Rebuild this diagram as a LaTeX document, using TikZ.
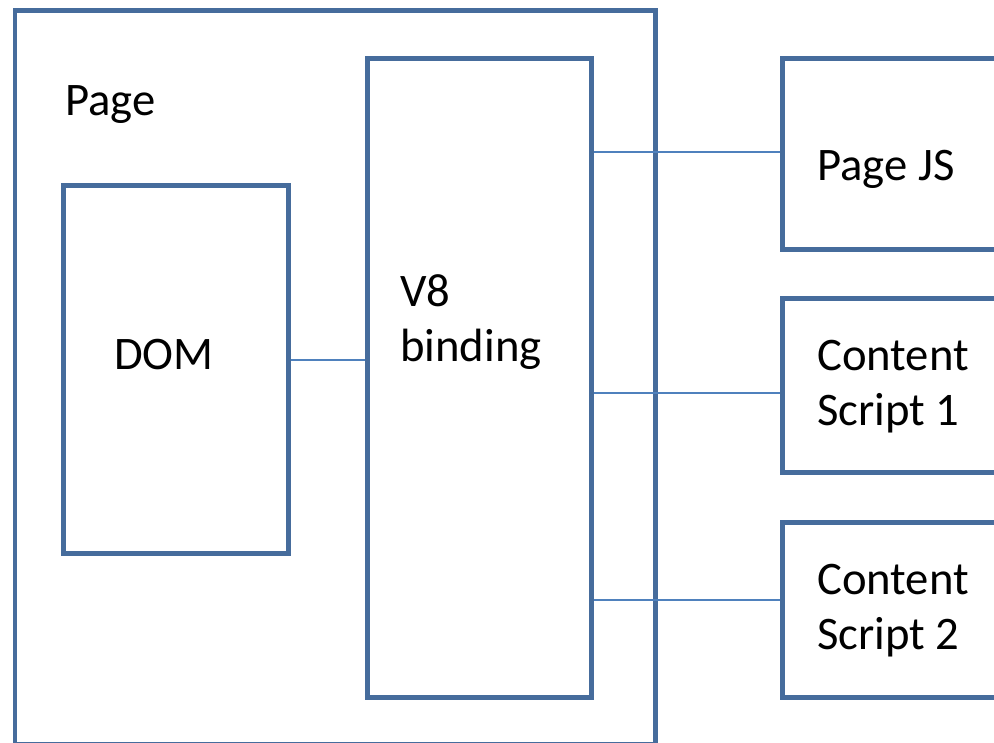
\documentclass[tikz,border=0pt]{standalone}
\usepackage{fontspec}
\setmainfont{Carlito}
\definecolor{boxc}{RGB}{70,108,156}
\definecolor{linkc}{RGB}{79,129,189}
\begin{document}
\begin{tikzpicture}[x=0.75pt,y=-0.75pt,
  blk/.style={draw=boxc,line width=3.6pt,rectangle,inner sep=0pt,anchor=north west},
  lbl/.style={anchor=base west,inner sep=0pt,font=\fontsize{35pt}{41.25pt}\selectfont,align=left},
  link/.style={draw=linkc,line width=1.1pt}]
\useasboundingbox (0,0) rectangle (994,742);
\clip (0,0) rectangle (994,742);
\fill[white] (0,0) rectangle (994,742);
% boxes
\node[blk,minimum width=640.5*0.75pt,minimum height=734*0.75pt] (page) at (12.5,8) {};
\node[blk,minimum width=224*0.75pt,minimum height=639*0.75pt] (v8) at (365,56) {};
\node[blk,minimum width=225*0.75pt,minimum height=368*0.75pt] (dom) at (61,183) {};
\node[blk,minimum width=240*0.75pt,minimum height=191*0.75pt] (pjs) at (780,56) {};
\node[blk,minimum width=240*0.75pt,minimum height=174*0.75pt] (cs1) at (780,296) {};
\node[blk,minimum width=240*0.75pt,minimum height=175*0.75pt] (cs2) at (780,520) {};
% labels
\node[lbl] (tpage) at (65,115) {Page};
\node[lbl] (tdom) at (114,369) {DOM};
\node[lbl] (tv8) at (400,361) {V8\\binding};
\node[lbl] (tpjs) at (817,180) {Page JS};
\node[lbl] (tcs1) at (817,425) {Content\\Script 1};
\node[lbl] (tcs2) at (817,649) {Content\\Script 2};
% connectors
\draw[link] (dom.east |- 0,360) -- (v8.west |- 0,360);
\draw[link] (v8.east |- 0,152) -- (pjs.west |- 0,152);
\draw[link] (v8.east |- 0,393) -- (cs1.west |- 0,393);
\draw[link] (v8.east |- 0,600) -- (cs2.west |- 0,600);
\end{tikzpicture}
\end{document}
